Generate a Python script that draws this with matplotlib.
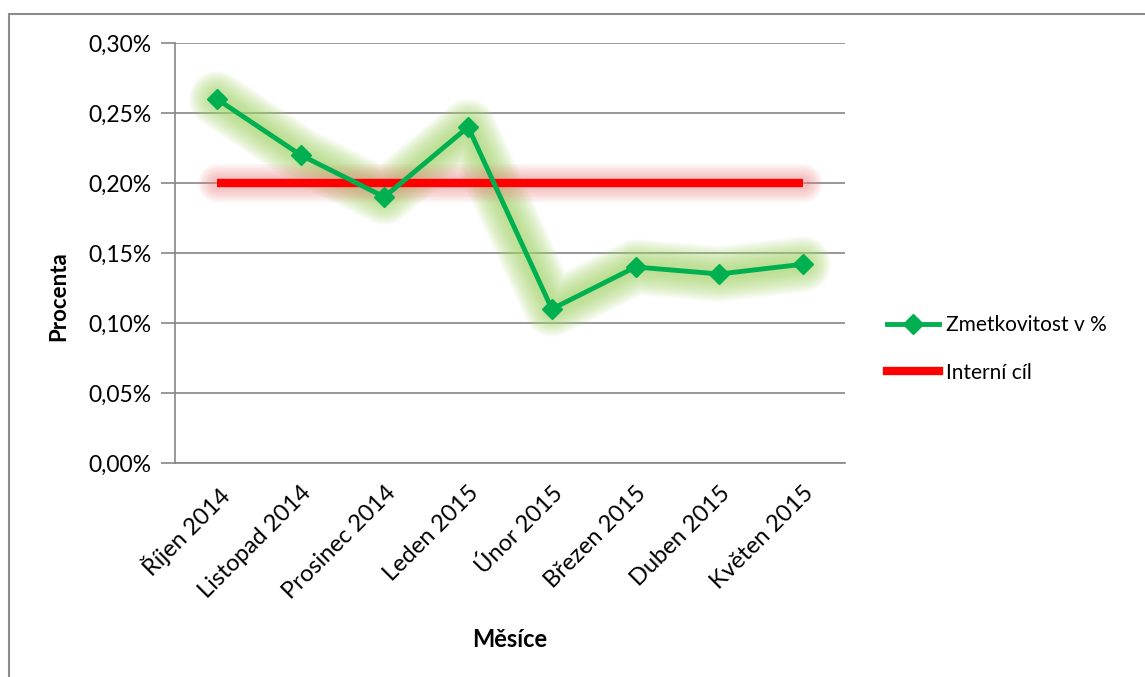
import numpy as np
import matplotlib.pyplot as plt
from matplotlib.patches import Rectangle
from matplotlib.lines import Line2D
from matplotlib.ticker import MultipleLocator, FuncFormatter

months = ['Říjen 2014', 'Listopad 2014', 'Prosinec 2014', 'Leden 2015',
          'Únor 2015', 'Březen 2015', 'Duben 2015', 'Květen 2015']
scrap_rate = [0.26, 0.22, 0.19, 0.24, 0.11, 0.14, 0.135, 0.142]
target = [0.20, 0.20, 0.20, 0.20, 0.20, 0.20, 0.20, 0.20]

plt.rcParams['font.family'] = ['Lato', 'DejaVu Sans']

fig = plt.figure(figsize=(11.45, 6.77), dpi=100)
ax = fig.add_axes([175 / 1145, 1 - 463 / 677, 670 / 1145, 420 / 677])

x = np.arange(len(months))
green = '#00b050'
red = '#ff0000'

# soft glow: many translucent wide lines stacked
for w in np.linspace(40, 8, 14):
    ax.plot(x, scrap_rate, color='#a6d86a', lw=w, alpha=0.08,
            solid_capstyle='round', solid_joinstyle='round', zorder=2)
for w in np.linspace(28, 8, 10):
    ax.plot(x, target, color='#f08080', lw=w, alpha=0.06,
            solid_capstyle='round', zorder=2)

ax.plot(x, target, color=red, lw=6, solid_capstyle='butt', zorder=3)
ax.plot(x, scrap_rate, color=green, lw=3.5, marker='D', markersize=10,
        markerfacecolor=green, markeredgecolor=green, zorder=4)

ax.set_xlim(-0.5, len(months) - 0.5)
ax.set_ylim(0, 0.30)
ax.yaxis.set_major_locator(MultipleLocator(0.05))
ax.yaxis.set_major_formatter(FuncFormatter(lambda v, p: f'{v:.2f}%'.replace('.', ',')))
ax.grid(axis='y', color='#868686', lw=1.2)
ax.set_axisbelow(True)

for s in ['top', 'right']:
    ax.spines[s].set_visible(False)
for s in ['left', 'bottom']:
    ax.spines[s].set_color('#868686')
    ax.spines[s].set_linewidth(1.2)

ax.tick_params(axis='y', length=10, width=1.2, color='#868686', labelsize=16.5, pad=7)
ax.tick_params(axis='x', length=0, labelsize=17, pad=14)
ax.set_xticks(x)
ax.set_xticklabels(months, rotation=45, ha='right', rotation_mode='anchor')

ax.set_ylabel('Procenta', fontsize=16, fontweight='bold')
ax.yaxis.set_label_coords((69 - 175) / 670, (463 - 296) / 420)
ax.set_xlabel('Měsíce', fontsize=17, fontweight='bold', labelpad=18)

handles = [Line2D([], [], color=green, lw=3.5, marker='D', markersize=10),
           Line2D([], [], color=red, lw=6)]
fig.legend(handles, ['Zmetkovitost v %', 'Interní cíl'], loc='center left',
           bbox_to_anchor=(868 / 1145, 1 - 349 / 677), frameon=False,
           fontsize=15, handlelength=2.5, handletextpad=0.35, labelspacing=1.3)

fig.patches.append(Rectangle((9 / 1145, -0.1), 1.2, 1 - 14 / 677 + 0.1,
                             transform=fig.transFigure, fill=False,
                             edgecolor='#8c8c8c', lw=1.5))

fig.savefig('out.png', dpi=100)
